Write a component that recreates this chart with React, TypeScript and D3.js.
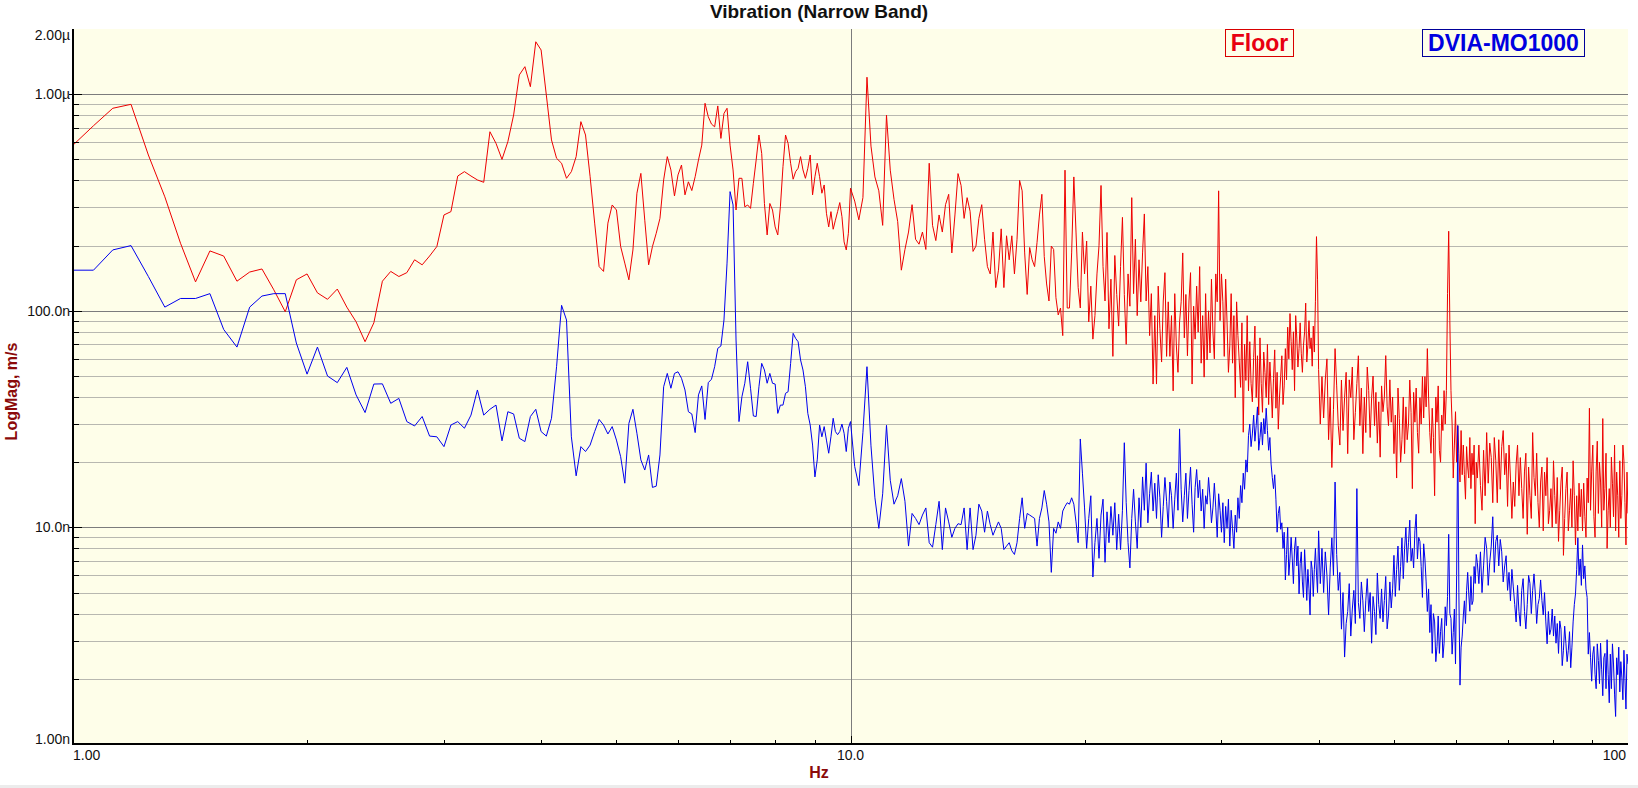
import React from "react";
import * as d3 from "d3";

// ---------- data (nm/s) ----------
// 1.0 – 10.0 Hz, step 0.0625 Hz (145 bins)
const floorLow = [
  582, 715, 861, 898, 524, 336, 205, 136, 189, 179, 137, 151, 156, 125, 99, 139,
  148, 121, 113, 126, 104, 89, 72, 88, 137, 152, 144, 150, 172, 163, 179, 198,
  277, 287, 419, 439, 419, 402, 392, 671, 593, 500, 604, 802, 1227, 1340, 1083, 1746,
  1600, 991, 615, 506, 480, 409, 439, 515, 747, 648, 416, 254, 160, 152, 254, 308,
  292, 198, 166, 139, 191, 349, 431, 262, 163, 198, 228, 267, 402, 515, 447, 339,
  424, 471, 343, 394, 359, 416, 497, 582, 908, 787, 728, 707, 883, 625, 815, 861,
  582, 447, 292, 409, 409, 302, 308, 297, 388, 497, 648, 533, 313, 224, 313, 292,
  244, 224, 302, 463, 648, 593, 480, 405, 439, 455, 515, 447, 409, 455, 524, 343,
  416, 480, 416, 349, 381, 282, 244, 287, 238, 262, 287, 316, 272, 208, 191, 228,
  368,
];
const dviaLow = [
  154, 154, 191, 200, 144, 104, 114, 114, 120, 82, 68, 104, 117, 120, 120, 71,
  51, 68, 50, 46.6, 54.8, 40.9, 33.9, 45.9, 46, 37.4, 39.4, 30.8, 29.4, 32.5, 26.4, 26.2,
  23.6, 29.7, 30.8, 28.7, 33.0, 43.1, 33.0, 35.1, 36.7, 25.1, 34.2, 33.4, 25.8, 24.9, 32.5, 35.1,
  27.7, 26.4, 31.9, 55.2, 106, 90.7, 26.2, 17.3, 23.6, 22.4, 24.0, 27.7, 31.5, 29.7, 27.0, 29.2,
  25.3, 21.2, 16.0, 30.2, 35.1, 27.2, 20.5, 18.4, 21.6, 15.3, 15.5, 21.6, 44.6, 51.4, 43.9, 51.4,
  52.3, 48.8, 43.1, 34.2, 33.4, 27.4, 40.9, 45.0, 31.5, 46.6, 48.3, 55.2, 67.1, 68.8, 90.7, 166,
  355, 308, 73.3, 30.8, 40.1, 46.3, 58.2, 43.9, 32.7, 32.5, 44.6, 57.2, 53.3, 46.3, 51.4, 46.3,
  45.9, 33.6, 36.7, 36.7, 41.6, 42.3, 57.2, 78.7, 74.6, 72.0, 59.3, 53.3, 44.6, 33.6, 29.7, 24.0,
  17.1, 20.5, 29.7, 26.2, 29.2, 25.3, 22.0, 26.2, 31.9, 27.7, 26.8, 27.7, 30.0, 27.2, 22.4, 28.7,
  30.8,
];
// 10.125 – 20.0 Hz, step 0.125 Hz (80 bins)
const floorMid = [
  321, 263, 333, 1198, 576, 415, 358, 248,
  800, 446, 327, 258, 154, 192, 231, 309,
  214, 203, 231, 192, 480, 248, 211, 277,
  231, 309, 345, 185, 277, 430, 379, 267,
  333, 288, 188, 199, 267, 309, 214, 160,
  148, 231, 128, 154, 239, 128, 222, 172,
  222, 148, 214, 400, 358, 185, 119, 196,
  172, 160, 207, 277, 345, 178, 133, 111,
  199, 192, 115, 95.7, 103, 76.8, 446, 103,
  103, 185, 415, 231, 128, 103, 231, 148,
];
const dviaMid = [
  19.1, 15.6, 27.5, 55.2, 23.8, 13.7, 9.9, 14.3,
  29.6, 16.5, 12.8, 14.0, 16.8, 13.2, 8.2, 11.6,
  11.0, 10.3, 11.4, 12.3, 8.5, 8.1, 10.3, 13.2,
  7.9, 12.3, 10.6, 9.0, 9.9, 10.4, 10.3, 12.3,
  7.9, 12.3, 7.9, 9.2, 12.8, 11.9, 9.5, 11.9,
  10.3, 9.2, 9.9, 10.6, 9.9, 7.9, 8.2, 8.5,
  7.8, 7.5, 8.5, 11.0, 13.7, 9.9, 11.6, 11.4,
  11.2, 11.0, 8.2, 11.0, 12.3, 14.8, 12.8, 10.6,
  6.2, 9.9, 9.4, 10.6, 9.9, 11.9, 12.5, 13.0,
  12.8, 13.7, 12.8, 10.6, 8.5, 25.6, 17.8, 12.3,
];
// 20.125 – 40.0 Hz, step 0.125 Hz (160 bins)
const floorHigh = [
  210, 88.9, 130, 74.0, 95, 148, 200, 379,
  160, 111, 230, 82.6, 140, 61.6, 180, 119,
  85, 160, 270, 119, 70, 148, 105, 333,
  120, 214, 95, 172, 110, 185, 280, 111,
  160, 76.8, 120, 45.9, 95, 45.9, 130, 82.6,
  58, 111, 150, 61.6, 110, 61.6, 95, 42.7,
  120, 68.8, 52, 88.9, 110, 185, 75, 119,
  62, 111, 150, 45.9, 105, 74.0, 130, 79.7,
  160, 57.3, 95, 49.4, 120, 59.4, 100, 63.9,
  140, 79.7, 60, 148, 110, 358, 90, 148,
  110, 61.6, 140, 88.9, 52, 68.8, 120, 57.3,
  95, 39.7, 110, 76.8, 58, 44.3, 88, 27.5,
  70, 47.7, 95, 42.7, 72, 46.1, 38, 60.9,
  85, 39.7, 62, 33.0, 75, 46.1, 34, 64.5,
  52, 39.7, 70, 36.9, 58, 44.5, 32, 48.8,
  66, 35.5, 52, 28.4, 40, 49.7, 62, 36.9,
  45, 66.9, 48, 84, 60, 97.1, 72, 53.5,
  80, 42.8, 95, 74.8, 55, 66.9, 88, 63.3,
  52, 69.4, 80, 108.5, 58, 69.4, 90, 66.9,
  75, 55.5, 85, 64.5, 110, 220, 140, 53.5,
];
const dviaHigh = [
  8.0, 11.0, 14.0, 5.9, 8.5, 11.0, 7.2, 11.4,
  13.5, 6.9, 11.8, 8.5, 12.5, 9.2, 13.0, 7.9,
  11.5, 7.9, 12.0, 24.6, 13.0, 8.5, 6.5, 11.0,
  15.0, 10.6, 8.0, 13.7, 10.0, 17.1, 12.0, 19.8,
  10.5, 14.3, 18.0, 11.9, 16.0, 11.0, 17.5, 13.7,
  9.0, 12.5, 17.0, 13.2, 10.0, 16.2, 14.0, 9.9,
  13.5, 17.8, 12.0, 28.5, 15.0, 10.6, 14.0, 17.8,
  11.0, 14.8, 19.0, 12.8, 9.5, 15.3, 18.5, 13.7,
  16.5, 11.9, 15.0, 9.9, 14.0, 12.8, 17.0, 13.7,
  10.5, 12.3, 16.0, 12.3, 9.0, 14.3, 12.0, 9.5,
  13.0, 8.5, 12.5, 9.9, 13.5, 8.2, 12.0, 9.9,
  8.0, 11.4, 9.5, 13.7, 11.0, 15.6, 13.0, 17.8,
  15.0, 20.5, 18.0, 26.5, 30.0, 23.6, 27.0, 33.0,
  25.0, 29.5, 36.0, 22.7, 26.0, 30.6, 24.0, 31.8,
  27.0, 35.5, 28.0, 22.7, 26.0, 19.6, 17.0, 15.1,
  17.5, 13.5, 9.5, 11.6, 12.5, 9.8, 10.5, 8.0,
  9.5, 5.72, 7.5, 10.0, 6.0, 7.15, 9.0, 7.15,
  5.5, 8.0, 9.0, 6.64, 8.2, 4.93, 6.8, 7.71,
  5.6, 4.75, 7.9, 6.16, 4.6, 6.4, 5.2, 3.94,
  7.0, 6.4, 4.8, 6.4, 8.0, 6.16, 5.0, 9.64,
];
// 40.2 – 64.0 Hz, step 0.2 Hz (120 bins)
const floorTop = [
  30, 49.7, 32, 47.9, 60, 25.4, 40, 18.9, 35, 66.9,
  45, 29.5, 24, 47.9, 28, 39.7, 52, 21.9, 48, 39.7,
  55, 25.4, 34, 46.1, 62, 29.5, 44, 21.9, 40, 27.4,
  55, 42.8, 26, 39.7, 50, 29.5, 42, 24.5, 38, 21.1,
  45, 34.2, 40, 62.1, 36, 29.5, 48, 30.6, 40, 21.9,
  33, 16.9, 44, 31.8, 20, 25.4, 40, 21.9, 36, 25.4,
  30, 47.9, 34, 15.1, 42, 30.6, 44, 27.4, 22, 39.7,
  30, 49.7, 32, 49.7, 36, 66.9, 40, 27.4, 22, 35.5,
  26, 14.0, 40, 30.6, 45, 22.7, 20, 33.0, 28, 42.8,
  30, 42.8, 120, 233, 90, 42.8, 30, 16.9, 24, 34.2,
  20, 29.5, 22, 16.2, 28, 17.5, 24, 17.5, 13.5, 23.6,
  19, 16.9, 26, 15.1, 22, 17.5, 24, 10.4, 20, 16.9,
];
const dviaTop = [
  5.5, 8.0, 5.0, 7.71, 6.0, 3.94, 6.5, 8.95, 6.0, 16.2,
  7.5, 5.12, 6.2, 3.39, 5.0, 2.52, 3.6, 4.09, 5.5, 3.15,
  4.2, 5.12, 3.6, 15.1, 4.5, 3.8, 5.6, 4.58, 3.3, 4.58,
  5.8, 4.09, 5.0, 2.92, 4.8, 4.09, 3.2, 6.16, 4.4, 3.8,
  5.2, 3.66, 4.6, 5.94, 3.4, 3.94, 5.6, 4.25, 5.2, 7.43,
  4.8, 6.4, 8.2, 5.12, 6.6, 8.95, 5.8, 8.0, 10.0, 6.89,
  8.5, 10.8, 7.0, 8.0, 6.5, 9.64, 11.5, 7.15, 9.0, 8.62,
  6.6, 4.75, 8.4, 7.15, 5.6, 4.09, 5.2, 3.27, 4.4, 2.62,
  4.0, 3.66, 2.4, 2.82, 3.9, 2.62, 3.3, 3.8, 2.5, 2.92,
  4.3, 3.52, 4.8, 9.29, 4.0, 3.8, 2.6, 3.27, 4.2, 2.34,
  6.0, 29.5, 5.0, 1.87, 2.8, 3.15, 3.9, 4.58, 3.6, 5.12,
  6.2, 4.93, 4.1, 5.94, 4.4, 4.58, 6.6, 5.51, 7.5, 6.89,
];
// 64.3 – 100.0 Hz, step 0.3 Hz (120 bins)
const floorEnd = [
  24, 15.6, 12, 22.7, 14, 27.4, 16, 24.5, 21, 13.0,
  26, 20.3, 13, 25.4, 15, 23.6, 28, 17.5, 22, 12.5,
  24, 16.9, 11, 16.2, 12.5, 19.6, 24, 14.0, 21, 15.1,
  11, 18.2, 22, 9.29, 19, 14.0, 11, 27.4, 17, 14.0,
  22, 13.0, 10, 16.2, 19, 9.64, 18, 14.0, 21, 10.4,
  12, 15.1, 10, 20.3, 14, 10.4, 17, 8.62, 12, 16.2,
  19, 7.43, 11, 15.1, 18, 9.64, 12, 15.1, 10, 20.3,
  14, 8.3, 14, 9.64, 16, 11.2, 15, 9.64, 16, 11.2,
  9, 16.9, 13, 35.5, 12, 18.2, 24, 11.2, 9, 18.2,
  25, 11.6, 20, 16.2, 10, 31.8, 12, 15.1, 22, 8.0,
  12, 15.1, 10, 21.1, 16, 11.2, 24, 9.64, 18, 14.0,
  9, 20.3, 11, 14.0, 24, 20.3, 13, 8.3, 18, 11.6,
];
const dviaEnd = [
  5.5, 7.71, 5.0, 6.64, 9.0, 8.0, 5.4, 6.9, 8.2, 11.2,
  6.2, 8.62, 9.2, 6.64, 8.8, 7.71, 5.6, 6.64, 7.4, 5.12,
  6.2, 4.58, 6.4, 5.31, 4.4, 3.66, 5.4, 4.09, 3.5, 5.12,
  5.8, 4.09, 3.4, 4.41, 6.0, 5.51, 4.0, 5.12, 6.1, 4.93,
  3.6, 4.4, 4.7, 5.72, 4.6, 3.94, 5.0, 3.66, 2.9, 4.09,
  3.2, 3.39, 4.2, 3.15, 3.9, 2.92, 3.6, 2.62, 3.7, 3.39,
  2.3, 2.71, 3.5, 2.92, 2.4, 2.71, 3.3, 2.25, 2.8, 3.66,
  4.4, 4.93, 6.4, 8.95, 6.0, 7.15, 5.4, 8.3, 5.8, 6.64,
  5.2, 4.75, 2.6, 3.27, 2.5, 1.95, 2.6, 2.82, 2.1, 1.8,
  2.9, 2.43, 1.9, 2.92, 2.2, 1.67, 2.5, 2.62, 1.8, 3.03,
  2.1, 1.55, 2.6, 1.8, 2.9, 2.34, 1.7, 1.34, 2.5, 2.09,
  2.8, 1.74, 2.4, 2.02, 1.6, 2.71, 2.0, 1.45, 2.6, 2.34,
];

// frequency bin grid of each band: first bin (Hz) and bin width (Hz)
const bandStarts = [1.0, 10.125, 20.125, 40.2, 64.3];
const bandSteps = [0.0625, 0.125, 0.125, 0.2, 0.3];
const floorBands = [floorLow, floorMid, floorHigh, floorTop, floorEnd];
const dviaBands = [dviaLow, dviaMid, dviaHigh, dviaTop, dviaEnd];

const seriesNames = ["Floor", "DVIA-MO1000"];
const yTickValues = [1, 10, 100, 1000, 2000];
const yTickLabels = ["1.00n", "10.0n", "100.0n", "1.00µ", "2.00µ"];
const xTickValues = [1, 10, 100];
const xTickLabels = ["1.00", "10.0", "100"];

// ---------- layout ----------
const W = 1638;
const H = 788;
const L = 73, R = 1628, T = 29, B = 744;
const FONT = "'Liberation Sans', Arial, Helvetica, sans-serif";
const BG = "#fefee9";
const RED = "#ee0000";
const BLUE = "#0000ee";
const AXIS_TITLE = "#8b0a0a";

function buildSeries(bands: number[][]): [number, number][] {
  const pts: [number, number][] = [];
  bands.forEach((vals, b) => {
    vals.forEach((v, i) => pts.push([bandStarts[b] + i * bandSteps[b], v]));
  });
  return pts;
}

export default function App() {
  const x = d3.scaleLog().domain([1, 100]).range([L, R]);
  const y = d3.scaleLog().domain([1, 2000]).range([B, T]);

  const line = d3
    .line<[number, number]>()
    .x((d) => x(d[0]))
    .y((d) => y(d[1]));

  const floorPts = buildSeries(floorBands);
  const dviaPts = buildSeries(dviaBands);

  const grid: { v: number; major: boolean }[] = [];
  [1, 10, 100, 1000].forEach((dec) => {
    for (let m = 1; m <= 9; m++) {
      const v = dec * m;
      if (v > 1 && v < 2000) grid.push({ v, major: m === 1 });
    }
  });
  const xMinor: number[] = [];
  [1, 10].forEach((dec) => {
    for (let m = 2; m <= 9; m++) xMinor.push(dec * m);
  });

  return (
    <div style={{ position: "absolute", left: 0, top: 0 }}>
      <svg width={W} height={H} style={{ display: "block", background: "#fff" }}>
        <defs>
          <clipPath id="plotClip">
            <rect x={L} y={T} width={R - L} height={B - T} />
          </clipPath>
        </defs>

        <rect x={L} y={T} width={R - L} height={B - T} fill={BG} />

        {grid.map((g) => (
          <line
            key={"g" + g.v}
            x1={L}
            x2={R}
            y1={Math.round(y(g.v)) + 0.5}
            y2={Math.round(y(g.v)) + 0.5}
            stroke={g.major ? "#7c7c7c" : "#b8b8b0"}
            strokeWidth={1}
          />
        ))}
        <line
          x1={Math.round(x(10)) + 0.5}
          x2={Math.round(x(10)) + 0.5}
          y1={T}
          y2={B}
          stroke="#7c7c7c"
          strokeWidth={1}
        />

        <g clipPath="url(#plotClip)">
          <path d={line(floorPts) || ""} fill="none" stroke={RED} strokeWidth={1} />
          <path d={line(dviaPts) || ""} fill="none" stroke={BLUE} strokeWidth={1} />
        </g>

        {grid.map((g) => (
          <line
            key={"yt" + g.v}
            x1={g.major ? L - 4 : L}
            x2={g.major ? L + 9 : L + 6}
            y1={Math.round(y(g.v)) + 0.5}
            y2={Math.round(y(g.v)) + 0.5}
            stroke="#000"
            strokeWidth={1}
          />
        ))}
        {xMinor.map((f) => (
          <line
            key={"xt" + f}
            x1={Math.round(x(f)) + 0.5}
            x2={Math.round(x(f)) + 0.5}
            y1={B}
            y2={B - 4}
            stroke="#000"
            strokeWidth={1}
          />
        ))}
        <line
          x1={Math.round(x(10)) + 0.5}
          x2={Math.round(x(10)) + 0.5}
          y1={B}
          y2={B - 8}
          stroke="#000"
          strokeWidth={1}
        />

        <line x1={L} x2={L} y1={T} y2={B + 1} stroke="#000" strokeWidth={2} />
        <line x1={L - 1} x2={R} y1={B} y2={B} stroke="#000" strokeWidth={2} />

        {yTickValues.map((v, i) => {
          const yy = y(v);
          const base = i === 0 ? yy : i === yTickValues.length - 1 ? yy + 11 : yy + 5;
          return (
            <text key={"yl" + v} x={70} y={base} textAnchor="end" fontFamily={FONT} fontSize={14} fill="#111">
              {yTickLabels[i]}
            </text>
          );
        })}
        {xTickValues.map((f, i) => (
          <text
            key={"xl" + f}
            x={i === 0 ? L : i === xTickValues.length - 1 ? R - 2 : x(f)}
            y={760}
            textAnchor={i === 0 ? "start" : i === xTickValues.length - 1 ? "end" : "middle"}
            fontFamily={FONT}
            fontSize={14}
            fill="#111"
          >
            {xTickLabels[i]}
          </text>
        ))}

        <text x={W / 2} y={18} textAnchor="middle" fontFamily={FONT} fontSize={19} fontWeight="bold" fill="#111">
          Vibration (Narrow Band)
        </text>
        <text x={W / 2} y={778} textAnchor="middle" fontFamily={FONT} fontSize={16} fontWeight="bold" fill={AXIS_TITLE}>
          Hz
        </text>
        <text
          transform={`translate(17, ${(T + B) / 2 + 5}) rotate(-90)`}
          textAnchor="middle"
          fontFamily={FONT}
          fontSize={16}
          fontWeight="bold"
          fill={AXIS_TITLE}
        >
          LogMag, m/s
        </text>

        <rect x={1225.5} y={29.5} width={68} height={27} fill={BG} stroke="#d80000" strokeWidth={1} />
        <text x={1259.5} y={51} textAnchor="middle" fontFamily={FONT} fontSize={23} fontWeight="bold" fill="#e80010">
          {seriesNames[0]}
        </text>
        <rect x={1422.5} y={29.5} width={162} height={27} fill={BG} stroke="#00009a" strokeWidth={1} />
        <text x={1503.5} y={51} textAnchor="middle" fontFamily={FONT} fontSize={23} fontWeight="bold" fill="#0000e0">
          {seriesNames[1]}
        </text>

        <rect x={0} y={785} width={W} height={3} fill="#ececec" />
      </svg>
    </div>
  );
}
